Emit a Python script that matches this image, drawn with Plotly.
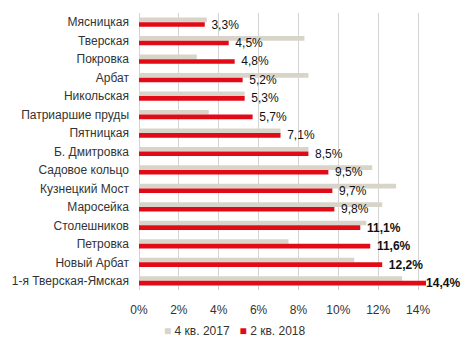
import plotly.graph_objects as go

categories = ["Мясницкая", "Тверская", "Покровка", "Арбат", "Никольская",
              "Патриаршие пруды", "Пятницкая", "Б. Дмитровка", "Садовое кольцо",
              "Кузнецкий Мост", "Маросейка", "Столешников", "Петровка",
              "Новый Арбат", "1-я Тверская-Ямская"]
q4_2017 = [3.4, 8.3, 2.9, 8.5, 5.3, 3.5, 7.1, 8.5, 11.7, 12.9, 12.2, 11.4, 7.5, 10.8, 13.2]
q2_2018 = [3.3, 4.5, 4.8, 5.2, 5.3, 5.7, 7.1, 8.5, 9.5, 9.7, 9.8, 11.1, 11.6, 12.2, 14.4]
series_names = ["4 кв. 2017", "2 кв. 2018"]
x_ticks = [0, 2, 4, 6, 8, 10, 12, 14]

GREY = "#D8D4CA"
RED = "#E30A17"
TXT = "#333333"

def fmt(v):
    return f"{v:.1f}".replace(".", ",") + "%"

labels = []
for i, v in enumerate(q2_2018):
    s = fmt(v)
    if v >= 11:
        s = "<b>" + s + "</b>"
    if i < len(q2_2018) - 1:
        s = "\u00a0\u00a0" + s
    labels.append(s)

fig = go.Figure()
fig.add_trace(go.Bar(y=categories, x=q4_2017, orientation="h", name=series_names[0],
                     marker=dict(color=GREY, line=dict(width=0)), showlegend=False,
                     hoverinfo="skip"))
fig.add_trace(go.Bar(y=categories, x=q2_2018, orientation="h", name=series_names[1],
                     marker=dict(color=RED, line=dict(width=0)), showlegend=False,
                     text=labels, textposition="outside", cliponaxis=False,
                     constraintext="none",
                     textfont=dict(family="Liberation Sans, Arial", size=12, color="#111111"),
                     hoverinfo="skip"))

# legend drawn as text line under the axis
legend_text = (f"<span style='color:{GREY}'>■</span> {series_names[0]}"
               f"\u00a0\u00a0 <span style='color:{RED}'>■</span> {series_names[1]}")
fig.add_annotation(text=legend_text, xref="paper", yref="paper",
                   x=(233 - 136) / (467 - 136 - 29), xanchor="center",
                   y=-41 / 277, yanchor="middle", showarrow=False,
                   font=dict(family="Liberation Sans, Arial", size=12, color=TXT))

fig.update_layout(
    width=467, height=351,
    margin=dict(l=136, r=29, t=13, b=61),
    paper_bgcolor="white", plot_bgcolor="white",
    barmode="group", bargap=0.5, bargroupgap=0,
    font=dict(family="Liberation Sans, Arial", size=12, color=TXT),
    showlegend=False,
)
fig.update_xaxes(range=[0, 15], tickvals=x_ticks,
                 ticktext=[f"{t}%" for t in x_ticks],
                 showgrid=True, gridcolor="#D4D4D4", gridwidth=1.3,
                 zeroline=True, zerolinecolor="#D4D4D4", zerolinewidth=1.3,
                 showline=False, ticks="", ticklabelstandoff=11,
                 tickfont=dict(size=12, color=TXT))
fig.update_yaxes(autorange="reversed", showgrid=False, ticks="",
                 ticklabelstandoff=9, tickfont=dict(size=12, color=TXT))

fig.write_html("out.html")
